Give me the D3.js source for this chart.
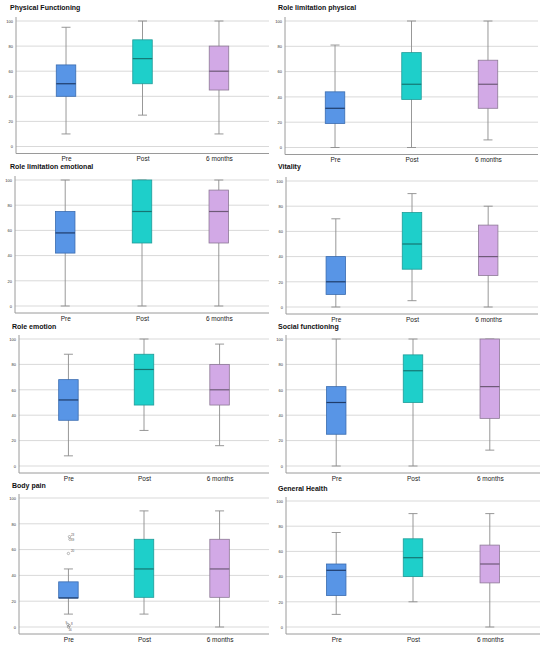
<!DOCTYPE html>
<html>
<head>
<meta charset="utf-8">
<script src="https://cdn.jsdelivr.net/npm/d3@7"></script>
<style>
  body { margin: 0; background: #fff; }
  svg { display: block; font-family: "Liberation Sans", Arial, sans-serif; }
</style>
</head>
<body>
<div id="chart"></div>
<script>
// SF-36 boxplots: Pre / Post / 6 months

var categories = ["Pre", "Post", "6 months"];
var titles = ["Physical Functioning", "Role limitation physical",
  "Role limitation emotional", "Vitality",
  "Role emotion", "Social functioning",
  "Body pain", "General Health"];
var yTicks = [0, 20, 40, 60, 80, 100];

// [min, q1, median, q3, max] por grupo
var physicalFunctioning = [[10, 40, 50, 65, 95], [25, 50, 70, 85, 100], [10, 45, 60, 80, 100]];
var roleLimitationPhysical = [[0, 19, 31, 44, 81], [0, 38, 50, 75, 100], [6, 31, 50, 69, 100]];
var roleLimitationEmotional = [[0, 42, 58, 75, 100], [0, 50, 75, 100, 100], [0, 50, 75, 92, 100]];
var vitality = [[0, 10, 20, 40, 70], [5, 30, 50, 75, 90], [0, 25, 40, 65, 80]];
var roleEmotion = [[8, 36, 52, 68, 88], [28, 48, 76, 88, 100], [16, 48, 60, 80, 96]];
var socialFunctioning = [[0, 25, 50, 62.5, 100], [0, 50, 75, 87.5, 100], [12.5, 37.5, 62.5, 100, 100]];
var bodyPain = [[10, 22.5, 22.5, 35, 45], [10, 23, 45, 68, 90], [0, 23, 45, 68, 90]];
var generalHealth = [[10, 25, 45, 50, 75], [20, 40, 55, 70, 90], [0, 35, 50, 65, 90]];

// outliers de Body pain (grupo Pre)
var bodyPainOutValues = [70, 68, 57, 2, 1, 0];
var bodyPainOutLabels = ["23", "19", "20", "9", "8", "16"];

var panelData = [physicalFunctioning, roleLimitationPhysical, roleLimitationEmotional,
  vitality, roleEmotion, socialFunctioning, bodyPain, generalHealth];

// colores
var fills = ["#5895e6", "#1ecfca", "#d2a9e6"];
var strokes = ["#3a6cb0", "#1f9c98", "#8d7996"];
var medians = ["#1f3c6a", "#167572", "#6e5a78"];

// layout (por panel)
var width = 550, height = 648;
var axisXs = [16, 285, 15, 286, 19, 286, 19, 286];
var endXs = [269, 538, 269, 538, 269, 540, 269, 540];
var titleXs = [10, 278, 10, 278, 12, 278, 12, 278];
var titleYs = [10, 10, 169, 169, 329, 329, 488, 491];
var topYs = [21, 21, 180, 181, 339, 339, 498, 501];
var bottomYs = [146.5, 147.5, 306, 307, 466, 466, 627, 627];
var boxW = 19.5;
var capW = 9;

var svg = d3.select("#chart").append("svg")
  .attr("width", width)
  .attr("height", height);

panelData.forEach(function(stats, i) {
  var x0 = axisXs[i], x1 = endXs[i];
  var yTop = topYs[i], yBot = bottomYs[i];

  var g = svg.append("g");

  var x = d3.scalePoint().domain(categories).range([x0, x1]).padding(0.654);
  var y = d3.scaleLinear().domain([0, 100]).range([yBot, yTop]);

  // titulo
  g.append("text")
    .attr("x", titleXs[i])
    .attr("y", titleYs[i])
    .attr("font-size", 7)
    .attr("font-weight", "bold")
    .attr("fill", "#111")
    .text(titles[i]);

  // grid
  g.selectAll(".grid").data(yTicks).enter().append("line")
    .attr("x1", x0).attr("x2", x1)
    .attr("y1", function(d) { return y(d); })
    .attr("y2", function(d) { return y(d); })
    .attr("stroke", "#d9d9d9")
    .attr("stroke-width", 1);

  // eje y
  var yAxis = d3.axisLeft(y).tickValues(yTicks).tickSize(0).tickPadding(3);
  var ya = g.append("g").attr("transform", "translate(" + x0 + ",0)").call(yAxis);
  ya.select(".domain").remove();
  ya.selectAll("text").attr("font-size", 4).attr("fill", "#333")
    .attr("font-family", "Liberation Sans, Arial, sans-serif");

  // eje x
  var axisY = yBot + 7;
  var xAxis = d3.axisBottom(x).tickSize(0).tickPadding(3);
  var xa = g.append("g").attr("transform", "translate(0," + axisY + ")").call(xAxis);
  xa.select(".domain").remove();
  xa.selectAll("text").attr("font-size", 6.5).attr("fill", "#222")
    .attr("font-family", "Liberation Sans, Arial, sans-serif");

  g.append("line")
    .attr("x1", x0).attr("x2", x1)
    .attr("y1", axisY).attr("y2", axisY)
    .attr("stroke", "#9a9a9a").attr("stroke-width", 1);
  g.append("line")
    .attr("x1", x0).attr("x2", x0)
    .attr("y1", yTop - 4).attr("y2", axisY)
    .attr("stroke", "#9a9a9a").attr("stroke-width", 1);

  // cajas
  var boxes = g.selectAll(".box").data(stats).enter().append("g");

  boxes.append("line")
    .attr("x1", function(d, j) { return x(categories[j]); })
    .attr("x2", function(d, j) { return x(categories[j]); })
    .attr("y1", function(d) { return y(d[0]); })
    .attr("y2", function(d) { return y(d[4]); })
    .attr("stroke", "#8c8c8c").attr("stroke-width", 0.9);

  [0, 4].forEach(function(k) {
    boxes.append("line")
      .attr("x1", function(d, j) { return x(categories[j]) - capW / 2; })
      .attr("x2", function(d, j) { return x(categories[j]) + capW / 2; })
      .attr("y1", function(d) { return y(d[k]); })
      .attr("y2", function(d) { return y(d[k]); })
      .attr("stroke", "#8c8c8c").attr("stroke-width", 0.9);
  });

  boxes.append("rect")
    .attr("x", function(d, j) { return x(categories[j]) - boxW / 2; })
    .attr("y", function(d) { return y(d[3]); })
    .attr("width", boxW)
    .attr("height", function(d) { return Math.max(y(d[1]) - y(d[3]), 0.5); })
    .attr("fill", function(d, j) { return fills[j]; })
    .attr("stroke", function(d, j) { return strokes[j]; })
    .attr("stroke-width", 0.8);

  boxes.append("line")
    .attr("x1", function(d, j) { return x(categories[j]) - boxW / 2; })
    .attr("x2", function(d, j) { return x(categories[j]) + boxW / 2; })
    .attr("y1", function(d) { return y(d[2]); })
    .attr("y2", function(d) { return y(d[2]); })
    .attr("stroke", function(d, j) { return medians[j]; })
    .attr("stroke-width", 1.2);

  // outliers (solo Body pain)
  if (stats === bodyPain) {
    var cx = x(categories[0]);
    var outs = bodyPainOutValues.map(function(v, k) {
      return { v: v, label: bodyPainOutLabels[k], k: k };
    });
    var dx = [1, 1.5, 0, -0.5, 0.8, 0];
    g.selectAll(".out").data(outs).enter().append("circle")
      .attr("cx", function(d) { return cx + dx[d.k]; })
      .attr("cy", function(d) { return y(d.v); })
      .attr("r", 1.2)
      .attr("fill", "none")
      .attr("stroke", "#777")
      .attr("stroke-width", 0.5);
    var lx = [2.5, 2.5, 2.5, -3, 2.5, 0];
    var ly = [-0.5, 1.5, -1.5, -0.5, -0.8, 3.5];
    g.selectAll(".outl").data(outs).enter().append("text")
      .attr("x", function(d) { return cx + lx[d.k]; })
      .attr("y", function(d) { return y(d.v) + ly[d.k]; })
      .attr("font-size", 3)
      .attr("fill", "#555")
      .text(function(d) { return d.label; });
  }
});
</script>
</body>
</html>
